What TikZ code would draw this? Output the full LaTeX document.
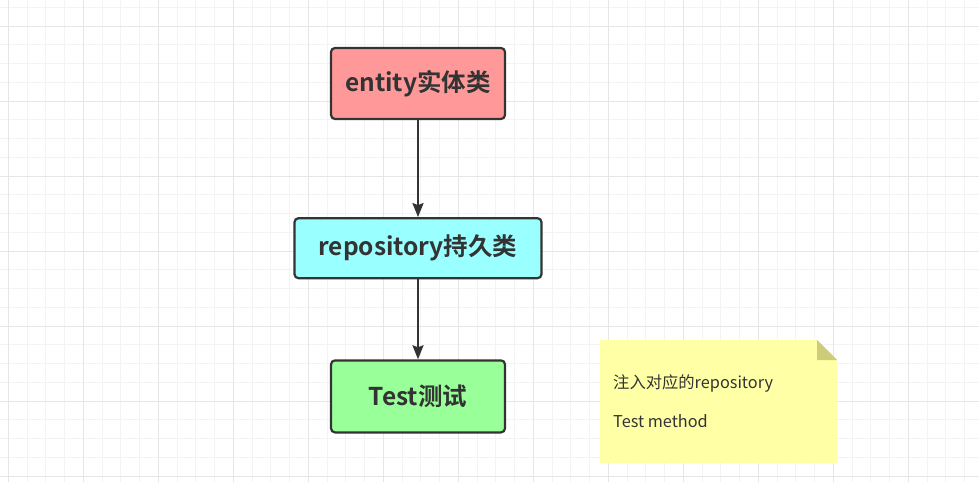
\documentclass[tikz,border=0pt]{standalone}
\usepackage{fontspec}
\setmainfont{Noto Sans CJK SC}[BoldFont={Noto Sans CJK SC Bold}]
\usetikzlibrary{positioning,arrows.meta}

\definecolor{gridminor}{HTML}{F3F3F3}
\definecolor{gridmajor}{HTML}{E6E6E6}
\definecolor{boxline}{HTML}{333333}
\definecolor{entityfill}{HTML}{FF9999}
\definecolor{repofill}{HTML}{99FFFF}
\definecolor{testfill}{HTML}{99FF99}
\definecolor{notefill}{HTML}{FFFFA6}
\definecolor{notefold}{HTML}{CCCC79}

\begin{document}
\begin{tikzpicture}[
        x=1pt, y=-1pt,
        layer/.style={
            rectangle, rounded corners=4pt, line width=2.2pt, draw = boxline,
            text = boxline, font = \fontsize{24.5}{28}\selectfont\bfseries,
            inner sep=0pt
        },
        flow/.style={
            line width=2.2pt, draw = boxline, -{Stealth[length=14pt,width=11pt,inset=2pt]}
        },
    ]
    \useasboundingbox (0,0) rectangle (979,482);
    \fill[white] (0,0) rectangle (979,482);

    % grid
    \foreach \gx in {8.33,27.08,...,979} {
        \draw[gridminor, line width=1pt] (\gx,0) -- (\gx,482);
    }
    \foreach \gy in {7.25,26,...,482} {
        \draw[gridminor, line width=1pt] (0,\gy) -- (979,\gy);
    }
    \foreach \gx in {8.33,83.33,...,979} {
        \draw[gridmajor, line width=1pt] (\gx,0) -- (\gx,482);
    }
    \foreach \gy in {26,101,...,482} {
        \draw[gridmajor, line width=1pt] (0,\gy) -- (979,\gy);
    }

    \node (entity) [layer, fill=entityfill, minimum width=174pt, minimum height=71pt] at (418,83.5) {entity实体类};

    \node (repository) [layer, fill=repofill, minimum width=247pt, minimum height=60pt, below=97pt of entity] {repository持久类};
    \path (entity) edge[flow] (repository);

    \node (test) [layer, fill=testfill, minimum width=174pt, minimum height=72pt, below=80pt of repository] {Test测试};
    \path (repository) edge[flow] (test);

    % note
    \coordinate (noteNW) at (600,340);
    \fill[notefill] (noteNW) -- ++(217,0) -- ++(20,20) -- ++(0,103) -- ++(-237,0) -- cycle;
    \fill[notefold] (817,340) -- (837,360) -- (817,360) -- cycle;
    \node (note) [anchor=west, align=left, inner sep=0pt, text=boxline, font=\fontsize{16.3}{19}\selectfont] at (613,401) {注入对应的repository\\[20pt]Test method};

\end{tikzpicture}
\end{document}
